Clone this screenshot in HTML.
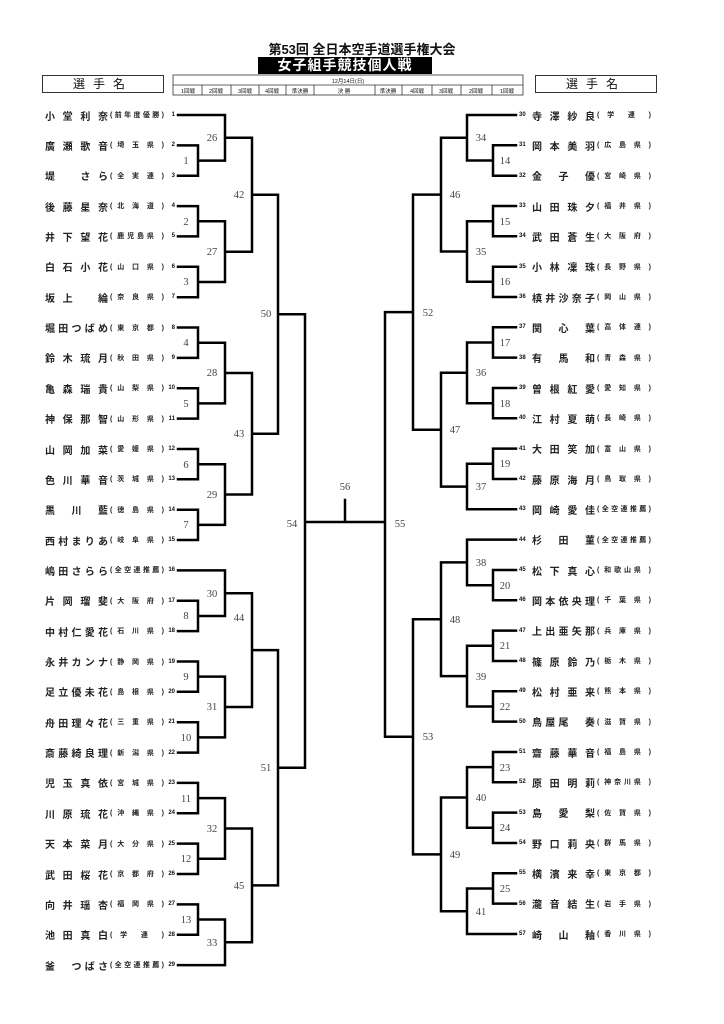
<!DOCTYPE html>
<html><head><meta charset="utf-8">
<style>
body{margin:0;background:#fff;}
#w{position:relative;width:724px;height:1024px;overflow:hidden;font-family:"Liberation Sans","Noto Sans CJK JP",sans-serif;color:#111;}
.r{position:absolute;height:14px;display:flex;align-items:center;white-space:nowrap;}
.n{display:inline-block;width:63px;font-size:10px;font-weight:600;color:#222;text-align:justify;text-align-last:justify;}
.a{display:inline-block;width:54px;font-size:7px;font-weight:bold;color:#222;text-align:justify;text-align-last:justify;margin-left:2px;}
.no{display:inline-block;width:11px;font-size:6px;font-weight:bold;}
.L{left:45px;} .L .no{text-align:right;}
.R{left:519px;} .R .no{text-align:left;} .R .n{margin-left:2px;}
.box{position:absolute;border:1px solid #333;font-size:12px;text-align:center;box-sizing:border-box;}
</style></head><body><div id="w">
<div style="position:absolute;left:0;width:724px;top:39px;text-align:center;font-size:13px;font-weight:bold;">第53回 全日本空手道選手権大会</div>
<div style="position:absolute;left:258px;top:57px;width:174px;height:17px;background:#000;color:#fff;text-align:center;font-size:14px;line-height:17px;font-weight:bold;letter-spacing:1px;">女子組手競技個人戦</div>
<div class="box" style="left:42px;top:75px;width:122px;height:18px;line-height:16px;letter-spacing:8px;">選手名</div>
<div class="box" style="left:535px;top:75px;width:122px;height:18px;line-height:16px;letter-spacing:8px;">選手名</div>
<svg style="position:absolute;left:0;top:0" width="724" height="1024" font-family="Liberation Sans, Noto Sans CJK JP, sans-serif">
<g fill="none" stroke="#333" stroke-width="0.8">
<rect x="173" y="75" width="350" height="20"/>
<line x1="173" y1="85" x2="523" y2="85"/>
<path d="M202 85V95M231 85V95M259 85V95M286 85V95M314 85V95M375 85V95M402 85V95M432 85V95M461 85V95M492 85V95"/>
</g>
<g font-size="5.5" text-anchor="middle" fill="#111">
<text x="348" y="83">12月14日(日)</text>
<text x="188" y="93">1回戦</text><text x="216" y="93">2回戦</text><text x="245" y="93">3回戦</text><text x="272" y="93">4回戦</text><text x="300" y="93">準決勝</text><text x="344" y="93">決 勝</text><text x="388" y="93">準決勝</text><text x="417" y="93">4回戦</text><text x="446" y="93">3回戦</text><text x="476" y="93">2回戦</text><text x="507" y="93">1回戦</text>
</g>
<path fill="none" stroke="#000" stroke-width="2.5" stroke-linecap="square" d="
M178 115H225M178 145.4H198M178 175.7H198M178 206.1H198M178 236.4H198M178 266.8H198M178 297.2H198M178 327.5H198M178 357.9H198M178 388.2H198M178 418.6H198M178 449H198M178 479.3H198M178 509.7H198M178 540H198M178 570.4H225M178 600.8H198M178 631.1H198M178 661.5H198M178 691.8H198M178 722.2H198M178 752.6H198M178 782.9H198M178 813.3H198M178 843.6H198M178 874H198M178 904.4H198M178 934.7H198M178 965.1H225
M198 145.4V175.7M198 160.6H225 M198 206.1V236.4M198 221.3H225 M198 266.8V297.2M198 282H225 M198 327.5V357.9M198 342.7H225 M198 388.2V418.6M198 403.4H225 M198 449V479.3M198 464.2H225 M198 509.7V540M198 524.9H225 M198 600.8V631.1M198 616H225 M198 661.5V691.8M198 676.6H225 M198 722.2V752.6M198 737.4H225 M198 782.9V813.3M198 798.1H225 M198 843.6V874M198 858.8H225 M198 904.4V934.7M198 919.5H225
M225 115V160.6M225 137.8H252 M225 221.3V282M225 251.7H252 M225 342.7V403.4M225 373H252 M225 464.2V524.9M225 494.5H252 M225 570.4V616M225 593.2H252 M225 676.6V737.4M225 707H252 M225 798.1V858.8M225 828.5H252 M225 919.5V965.1M225 942.3H252
M252 137.8V251.7M252 194.7H278 M252 373V494.5M252 433.8H278 M252 593.2V707M252 650.1H278 M252 828.5V942.3M252 885.4H278
M278 194.7V433.8M278 314.2H305 M278 650.1V885.4M278 767.8H305
M305 314.2V767.8M305 522H385M345 500V522M385 312.1V736.8
M516 115H467M516 145.3H493M516 175.7H493M516 206H493M516 236.3H493M516 266.7H493M516 297H493M516 327.3H493M516 357.6H493M516 388H493M516 418.3H493M516 448.6H493M516 479H493M516 509.3H467M516 539.6H467M516 570H493M516 600.3H493M516 630.6H493M516 661H493M516 691.3H493M516 721.6H493M516 752H493M516 782.3H493M516 812.6H493M516 843H493M516 873.3H493M516 903.6H493M516 934H467
M493 145.3V175.7M493 160.5H467 M493 206V236.3M493 221.2H467 M493 266.7V297M493 281.8H467 M493 327.3V357.6M493 342.5H467 M493 388V418.3M493 403.2H467 M493 448.6V479M493 463.8H467 M493 570V600.3M493 585.2H467 M493 630.6V661M493 645.8H467 M493 691.3V721.6M493 706.5H467 M493 752V782.3M493 767.1H467 M493 812.6V843M493 827.8H467 M493 873.3V903.6M493 888.5H467
M467 115V160.5M467 137.8H441 M467 221.2V281.8M467 251.5H441 M467 342.5V403.2M467 372.8H441 M467 463.8V509.3M467 486.6H441 M467 539.6V585.2M467 562.4H441 M467 645.8V706.5M467 676.1H441 M467 767.1V827.8M467 797.5H441 M467 888.5V934M467 911.2H441
M441 137.8V251.5M441 194.6H413 M441 372.8V486.6M441 429.7H413 M441 562.4V676.1M441 619.3H413 M441 797.5V911.2M441 854.4H413
M413 194.6V429.7M413 312.1H385 M413 619.3V854.4M413 736.8H385"/>
<g font-family="Liberation Serif, serif" font-size="10.5" fill="#444" text-anchor="middle">
<text x="186" y="164">1</text><text x="186" y="225">2</text><text x="186" y="285">3</text><text x="186" y="346">4</text><text x="186" y="407">5</text><text x="186" y="468">6</text><text x="186" y="528">7</text><text x="186" y="619">8</text><text x="186" y="680">9</text><text x="186" y="741">10</text><text x="186" y="802">11</text><text x="186" y="862">12</text><text x="186" y="923">13</text>
<text x="212" y="141">26</text><text x="212" y="255">27</text><text x="212" y="376">28</text><text x="212" y="498">29</text><text x="212" y="597">30</text><text x="212" y="710">31</text><text x="212" y="832">32</text><text x="212" y="946">33</text>
<text x="239" y="198">42</text><text x="239" y="437">43</text><text x="239" y="621">44</text><text x="239" y="889">45</text>
<text x="266" y="317">50</text><text x="266" y="771">51</text>
<text x="292" y="527">54</text><text x="345" y="490">56</text><text x="400" y="527">55</text>
<text x="505" y="164">14</text><text x="505" y="225">15</text><text x="505" y="285">16</text><text x="505" y="346">17</text><text x="505" y="407">18</text><text x="505" y="467">19</text><text x="505" y="589">20</text><text x="505" y="649">21</text><text x="505" y="710">22</text><text x="505" y="771">23</text><text x="505" y="831">24</text><text x="505" y="892">25</text>
<text x="481" y="141">34</text><text x="481" y="255">35</text><text x="481" y="376">36</text><text x="481" y="490">37</text><text x="481" y="566">38</text><text x="481" y="680">39</text><text x="481" y="801">40</text><text x="481" y="915">41</text>
<text x="455" y="198">46</text><text x="455" y="433">47</text><text x="455" y="623">48</text><text x="455" y="858">49</text>
<text x="428" y="316">52</text><text x="428" y="740">53</text>
</g>
</svg>
<div class="r L" style="top:108px"><span class="n">小 堂 利 奈</span><span class="a">(前年度優勝)</span><span class="no">1</span></div>
<div class="r L" style="top:138.4px"><span class="n">廣 瀬 歌 音</span><span class="a">( 埼 玉 県 )</span><span class="no">2</span></div>
<div class="r L" style="top:168.7px"><span class="n">堤 　 さ ら</span><span class="a">( 全 実 連 )</span><span class="no">3</span></div>
<div class="r L" style="top:199.1px"><span class="n">後 藤 星 奈</span><span class="a">( 北 海 道 )</span><span class="no">4</span></div>
<div class="r L" style="top:229.4px"><span class="n">井 下 望 花</span><span class="a">( 鹿児島県 )</span><span class="no">5</span></div>
<div class="r L" style="top:259.8px"><span class="n">白 石 小 花</span><span class="a">( 山 口 県 )</span><span class="no">6</span></div>
<div class="r L" style="top:290.2px"><span class="n">坂 上 　 綸</span><span class="a">( 奈 良 県 )</span><span class="no">7</span></div>
<div class="r L" style="top:320.5px"><span class="n">堀 田 つ ば め</span><span class="a">( 東 京 都 )</span><span class="no">8</span></div>
<div class="r L" style="top:350.9px"><span class="n">鈴 木 琉 月</span><span class="a">( 秋 田 県 )</span><span class="no">9</span></div>
<div class="r L" style="top:381.2px"><span class="n">亀 森 瑞 貴</span><span class="a">( 山 梨 県 )</span><span class="no">10</span></div>
<div class="r L" style="top:411.6px"><span class="n">神 保 那 智</span><span class="a">( 山 形 県 )</span><span class="no">11</span></div>
<div class="r L" style="top:442px"><span class="n">山 岡 加 菜</span><span class="a">( 愛 媛 県 )</span><span class="no">12</span></div>
<div class="r L" style="top:472.3px"><span class="n">色 川 華 音</span><span class="a">( 茨 城 県 )</span><span class="no">13</span></div>
<div class="r L" style="top:502.7px"><span class="n">黒 　 川 　 藍</span><span class="a">( 徳 島 県 )</span><span class="no">14</span></div>
<div class="r L" style="top:533px"><span class="n">西 村 ま り あ</span><span class="a">( 岐 阜 県 )</span><span class="no">15</span></div>
<div class="r L" style="top:563.4px"><span class="n">嶋 田 さ ら ら</span><span class="a">(全空連推薦)</span><span class="no">16</span></div>
<div class="r L" style="top:593.8px"><span class="n">片 岡 瑠 斐</span><span class="a">( 大 阪 府 )</span><span class="no">17</span></div>
<div class="r L" style="top:624.1px"><span class="n">中 村 仁 愛 花</span><span class="a">( 石 川 県 )</span><span class="no">18</span></div>
<div class="r L" style="top:654.5px"><span class="n">永 井 カ ン ナ</span><span class="a">( 静 岡 県 )</span><span class="no">19</span></div>
<div class="r L" style="top:684.8px"><span class="n">足 立 優 未 花</span><span class="a">( 島 根 県 )</span><span class="no">20</span></div>
<div class="r L" style="top:715.2px"><span class="n">舟 田 理 々 花</span><span class="a">( 三 重 県 )</span><span class="no">21</span></div>
<div class="r L" style="top:745.6px"><span class="n">斎 藤 綺 良 理</span><span class="a">( 新 潟 県 )</span><span class="no">22</span></div>
<div class="r L" style="top:775.9px"><span class="n">児 玉 真 依</span><span class="a">( 宮 城 県 )</span><span class="no">23</span></div>
<div class="r L" style="top:806.3px"><span class="n">川 原 琉 花</span><span class="a">( 沖 縄 県 )</span><span class="no">24</span></div>
<div class="r L" style="top:836.6px"><span class="n">天 本 菜 月</span><span class="a">( 大 分 県 )</span><span class="no">25</span></div>
<div class="r L" style="top:867px"><span class="n">武 田 桜 花</span><span class="a">( 京 都 府 )</span><span class="no">26</span></div>
<div class="r L" style="top:897.4px"><span class="n">向 井 瑶 杏</span><span class="a">( 福 岡 県 )</span><span class="no">27</span></div>
<div class="r L" style="top:927.7px"><span class="n">池 田 真 白</span><span class="a">( 学 連 )</span><span class="no">28</span></div>
<div class="r L" style="top:958.1px"><span class="n">釜 　 つ ば さ</span><span class="a">(全空連推薦)</span><span class="no">29</span></div>

<div class="r R" style="top:108px"><span class="no">30</span><span class="n">寺 澤 紗 良</span><span class="a">( 学 連 )</span></div>
<div class="r R" style="top:138.3px"><span class="no">31</span><span class="n">岡 本 美 羽</span><span class="a">( 広 島 県 )</span></div>
<div class="r R" style="top:168.7px"><span class="no">32</span><span class="n">金 　 子 　 優</span><span class="a">( 宮 崎 県 )</span></div>
<div class="r R" style="top:199px"><span class="no">33</span><span class="n">山 田 珠 夕</span><span class="a">( 福 井 県 )</span></div>
<div class="r R" style="top:229.3px"><span class="no">34</span><span class="n">武 田 蒼 生</span><span class="a">( 大 阪 府 )</span></div>
<div class="r R" style="top:259.7px"><span class="no">35</span><span class="n">小 林 凜 珠</span><span class="a">( 長 野 県 )</span></div>
<div class="r R" style="top:290px"><span class="no">36</span><span class="n">槙 井 沙 奈 子</span><span class="a">( 岡 山 県 )</span></div>
<div class="r R" style="top:320.3px"><span class="no">37</span><span class="n">関 　 心 　 葉</span><span class="a">( 高 体 連 )</span></div>
<div class="r R" style="top:350.6px"><span class="no">38</span><span class="n">有 　 馬 　 和</span><span class="a">( 青 森 県 )</span></div>
<div class="r R" style="top:381px"><span class="no">39</span><span class="n">曽 根 紅 愛</span><span class="a">( 愛 知 県 )</span></div>
<div class="r R" style="top:411.3px"><span class="no">40</span><span class="n">江 村 夏 萌</span><span class="a">( 長 崎 県 )</span></div>
<div class="r R" style="top:441.6px"><span class="no">41</span><span class="n">大 田 笑 加</span><span class="a">( 富 山 県 )</span></div>
<div class="r R" style="top:472px"><span class="no">42</span><span class="n">藤 原 海 月</span><span class="a">( 鳥 取 県 )</span></div>
<div class="r R" style="top:502.3px"><span class="no">43</span><span class="n">岡 崎 愛 佳</span><span class="a">(全空連推薦)</span></div>
<div class="r R" style="top:532.6px"><span class="no">44</span><span class="n">杉 　 田 　 菫</span><span class="a">(全空連推薦)</span></div>
<div class="r R" style="top:563px"><span class="no">45</span><span class="n">松 下 真 心</span><span class="a">( 和歌山県 )</span></div>
<div class="r R" style="top:593.3px"><span class="no">46</span><span class="n">岡 本 依 央 理</span><span class="a">( 千 葉 県 )</span></div>
<div class="r R" style="top:623.6px"><span class="no">47</span><span class="n">上 出 亜 矢 那</span><span class="a">( 兵 庫 県 )</span></div>
<div class="r R" style="top:654px"><span class="no">48</span><span class="n">篠 原 鈴 乃</span><span class="a">( 栃 木 県 )</span></div>
<div class="r R" style="top:684.3px"><span class="no">49</span><span class="n">松 村 亜 来</span><span class="a">( 熊 本 県 )</span></div>
<div class="r R" style="top:714.6px"><span class="no">50</span><span class="n">鳥 屋 尾 　 奏</span><span class="a">( 滋 賀 県 )</span></div>
<div class="r R" style="top:745px"><span class="no">51</span><span class="n">齋 藤 華 音</span><span class="a">( 福 島 県 )</span></div>
<div class="r R" style="top:775.3px"><span class="no">52</span><span class="n">原 田 明 莉</span><span class="a">( 神奈川県 )</span></div>
<div class="r R" style="top:805.6px"><span class="no">53</span><span class="n">島 　 愛 　 梨</span><span class="a">( 佐 賀 県 )</span></div>
<div class="r R" style="top:836px"><span class="no">54</span><span class="n">野 口 莉 央</span><span class="a">( 群 馬 県 )</span></div>
<div class="r R" style="top:866.3px"><span class="no">55</span><span class="n">横 濱 来 幸</span><span class="a">( 東 京 都 )</span></div>
<div class="r R" style="top:896.6px"><span class="no">56</span><span class="n">瀧 音 結 生</span><span class="a">( 岩 手 県 )</span></div>
<div class="r R" style="top:927px"><span class="no">57</span><span class="n">崎 　 山 　 釉</span><span class="a">( 香 川 県 )</span></div>
</div></body></html>
